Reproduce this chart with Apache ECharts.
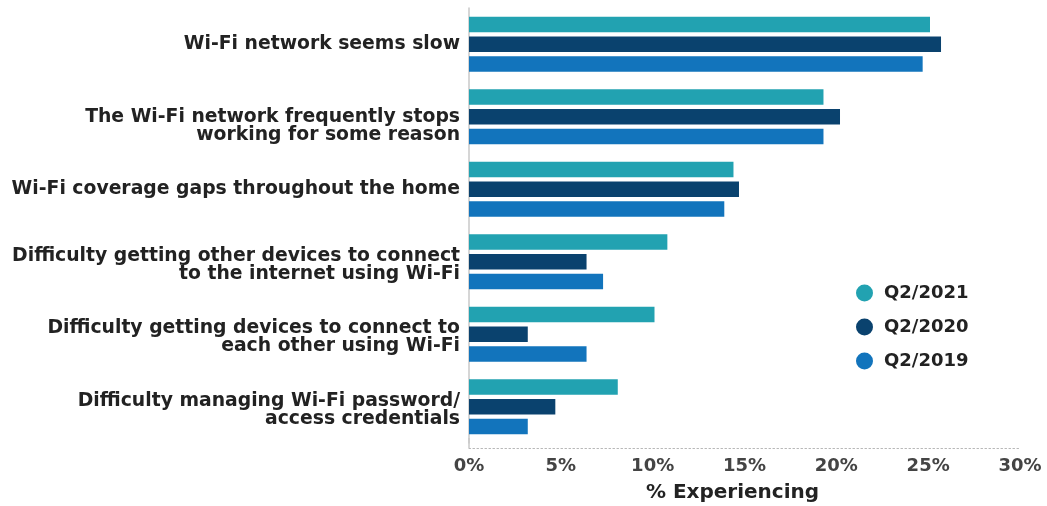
<!DOCTYPE html>
<html>
<head>
<meta charset="utf-8">
<script src="https://cdn.jsdelivr.net/npm/echarts@6/dist/echarts.min.js"></script>
<style>
  html, body { margin: 0; padding: 0; background: #fff; }
  #chart { width: 1047px; height: 506px; }
</style>
</head>
<body>
<div id="chart"></div>
<script>
// Wi-Fi problems reported, share of households experiencing each issue
const categories = [
  'Wi-Fi network seems slow',
  'The Wi-Fi network frequently stops\nworking for some reason',
  'Wi-Fi coverage gaps throughout the home',
  'Difficulty getting other devices to connect\nto the internet using Wi-Fi',
  'Difficulty getting devices to connect to\neach other using Wi-Fi',
  'Difficulty managing Wi-Fi password/\naccess credentials'
];
const q2_2021 = [25.1, 19.3, 14.4, 10.8, 10.1, 8.1];
const q2_2020 = [25.7, 20.2, 14.7, 6.4, 3.2, 4.7];
const q2_2019 = [24.7, 19.3, 13.9, 7.3, 6.4, 3.2];
const xTicks = [0, 5, 10, 15, 20, 25, 30];

// this label sits with its first line level with the middle bar
const loweredLabels = [categories[1]];

const FONT = 'DejaVu Sans';
const colors = { q21: '#22A2B1', q20: '#0A426E', q19: '#1274BC' };

const chart = echarts.init(document.getElementById('chart'), null, { renderer: 'canvas' });

function barSeries(name, data, color) {
  return {
    name: name,
    type: 'bar',
    data: data,
    barWidth: 15.5,
    barGap: '27%',
    itemStyle: { color: color },
    emphasis: { disabled: true }
  };
}

// two-line labels hang a little low; a thin spacer line nudges them down
function categoryLabel(v) {
  if (loweredLabels.includes(v)) return '\n' + v;
  if (v.includes('\n')) return '{gap| }\n' + v;
  return v;
}

chart.setOption({
  animation: false,
  textStyle: { fontFamily: FONT },
  grid: {
    left: 469, right: 27, top: 8, bottom: 63,
    containLabel: false, outerBoundsMode: 'none'
  },
  legend: {
    orient: 'vertical',
    left: 851,
    top: 279,
    itemGap: 16,
    itemWidth: 17,
    itemHeight: 17,
    icon: 'circle',
    data: ['Q2/2021', 'Q2/2020', 'Q2/2019'],
    textStyle: { fontFamily: FONT, fontWeight: 'bold', fontSize: 18, color: '#222', padding: [0, 0, 0, 6] }
  },
  xAxis: {
    type: 'value',
    min: xTicks[0],
    max: xTicks[xTicks.length - 1],
    interval: 5,
    offset: 5,
    name: '% Experiencing',
    nameLocation: 'middle',
    nameGap: 35,
    nameTextStyle: {
      fontFamily: FONT, fontWeight: 'bold', fontSize: 20, color: '#222',
      padding: [0, 24, 0, 0]
    },
    axisLine: { show: true, lineStyle: { color: '#b8b8b8', type: [1.5, 2.5], width: 1.2 } },
    axisTick: { show: false },
    splitLine: { show: false },
    axisLabel: {
      formatter: v => v + '%',
      fontFamily: FONT, fontWeight: 'bold', fontSize: 18, color: '#444', margin: 9
    }
  },
  yAxis: {
    type: 'category',
    data: categories,
    inverse: true,
    axisLine: {
      show: true,
      lineStyle: { color: '#c8c8c8', width: 1.5 },
      symbol: ['rect', 'none'],
      symbolSize: [1.5, 10]
    },
    axisTick: { show: false },
    axisLabel: {
      fontFamily: FONT, fontWeight: 'bold', fontSize: 18.8, color: '#222',
      lineHeight: 18, margin: 9, align: 'right',
      formatter: categoryLabel,
      rich: {
        gap: { fontSize: 1, lineHeight: 6 }
      }
    }
  },
  series: [
    barSeries('Q2/2021', q2_2021, colors.q21),
    barSeries('Q2/2020', q2_2020, colors.q20),
    barSeries('Q2/2019', q2_2019, colors.q19)
  ]
});
</script>
</body>
</html>
